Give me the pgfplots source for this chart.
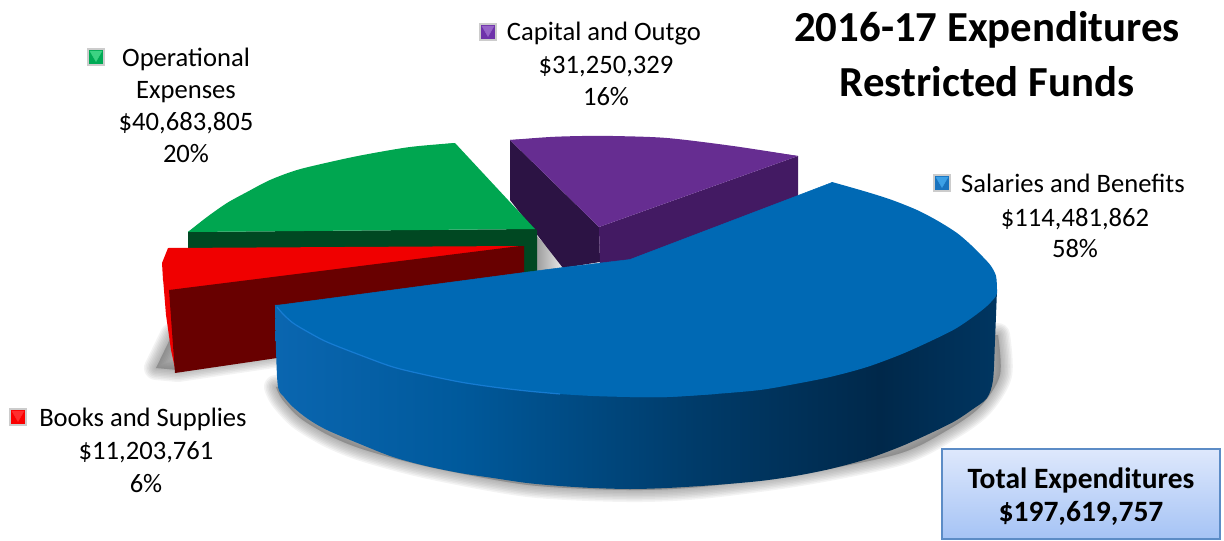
\documentclass[border=0pt]{standalone}
\usepackage{fontspec}
\setmainfont{Carlito}
\usepackage{pgfplots}
\pgfplotsset{compat=1.18}

\definecolor{bluetop}{RGB}{0,105,180}
\definecolor{blueedge}{RGB}{28,130,220}
\definecolor{greentop}{RGB}{0,166,80}
\definecolor{greenside}{RGB}{0,72,34}
\definecolor{purpletop}{RGB}{102,45,145}
\definecolor{purpleright}{RGB}{67,26,99}
\definecolor{purpleleft}{RGB}{44,19,68}
\definecolor{redtop}{RGB}{240,0,0}
\definecolor{redside}{RGB}{104,0,0}
\definecolor{boxtop}{RGB}{222,232,252}
\definecolor{boxbot}{RGB}{165,195,245}
\definecolor{boxline}{RGB}{92,140,198}
\definecolor{keyB}{RGB}{25,115,190}
\definecolor{keyBl}{RGB}{60,160,230}
\definecolor{keyG}{RGB}{0,170,85}
\definecolor{keyGl}{RGB}{60,210,130}
\definecolor{keyP}{RGB}{110,50,170}
\definecolor{keyPl}{RGB}{150,100,200}
\definecolor{keyR}{RGB}{250,0,0}
\definecolor{keyRl}{RGB}{255,45,45}

% side of the blue slice, stops run 25bp to 75bp across the path
\pgfdeclarehorizontalshading{bandshade}{100bp}{
  rgb(0bp)=(0.04,0.40,0.69);
  rgb(25bp)=(0.04,0.40,0.69);
  rgb(37.8bp)=(0,0.35,0.61);
  rgb(54.4bp)=(0,0.23,0.41);
  rgb(66.9bp)=(0,0.157,0.29);
  rgb(75bp)=(0,0.21,0.38);
  rgb(100bp)=(0,0.21,0.38)}

% label text at a baseline, x is the centre
\newcommand{\lbl}[3]{\node[anchor=base,inner sep=0pt,font=\fontsize{26.6}{26.6}\selectfont] at (axis cs:#1,#2) {#3};}
\newcommand{\bld}[4]{\node[anchor=base,inner sep=0pt,font=\fontsize{#4}{#4}\selectfont\bfseries] at (axis cs:#1,#2) {#3};}
% legend key
\newcommand{\lkey}[4]{%
  \addplot[only marks,mark=square*,mark size=8.5pt,color=black!20] coordinates {(#1,#2)};
  \addplot[only marks,mark=square*,mark size=6.5pt,color=#3] coordinates {(#1,#2)};
  \addplot[only marks,mark=triangle*,mark size=7pt,mark options={rotate=180},color=#4] coordinates {(#1,#2-2.5)};
}

\begin{document}
\begin{tikzpicture}
\begin{axis}[
  width=1224pt,height=541pt,scale only axis,
  xmin=0,xmax=1224,ymin=0,ymax=541,y dir=reverse,
  enlargelimits=false,hide axis,clip=false,
]
\path (axis cs:0,0) rectangle (axis cs:1224,541);

% soft shadows, stacked strokes
\addplot[draw=none,left color=black!38,right color=black!4] coordinates {(537,236)(566,268)(537,273)} --cycle;
\pgfplotsinvokeforeach{24,21,18,15,12,9,6,3}{
  \addplot[fill=black!60,draw=black!60,opacity=0.08,line width=#1pt,line join=round]
    coordinates {(172,335)(156,368)(178,370)(280,355)(280,345)} --cycle;
  \addplot[smooth,fill=black!60,draw=black!60,opacity=0.08,line width=#1pt,line join=round]
    coordinates {(276,387)(282,399)(300,418)(330,436)(365,450)(429,467)(528,485)(627,490)(700,487)(800,474)(898,454)(946,431)(980,407)(1000,375)(998,335)} --cycle;
}

% purple slice
\addplot[draw=none,fill=purpleleft] coordinates {(510,140)(599,227)(600,262)(563,268)(510,200)} --cycle;
\addplot[draw=none,fill=purpleright] coordinates {(599,227)(798,156)(798,196)(640,262)(600,264)} --cycle;
\addplot[smooth,draw=none,fill=purpletop] coordinates {(510,140)(550,137)(582,136)(613,136)(667,138)(733,146)(798,156)} --cycle;
\addplot[draw=none,fill=purpletop] coordinates {(510,140)(550,138)(613,137)(667,139)(733,147)(798,156)(599,227)} --cycle;

% green slice
\addplot[draw=none,fill=greenside] coordinates {(188,232)(535,229)(537,230)(537,274)(188,262)} --cycle;
\addplot[smooth,draw=none,fill=greentop] coordinates {(455,143)(410,147)(363,155)(330,162)(297,170)(270,180)(247,192)(227,203)(207,217)(188,232)} --cycle;
\addplot[draw=none,fill=greentop] coordinates {(455,143)(410,148)(363,156)(297,171)(247,193)(207,218)(188,232)(535,229)} --cycle;

% red slice
\addplot[draw=none,fill=redtop] coordinates {(168,248)(520,246)(524,246)(169,292)(163,280)(162,263)} --cycle;
\addplot[draw=none,fill=redtop] coordinates {(163,278)(170,290)(176,373)(171,350)(166,315)} --cycle;
\addplot[draw=none,fill=redside] coordinates {(169,290)(520,246)(524,246)(524,272)(524,330)(277,358)(175,373)} --cycle;

% blue slice
\addplot[smooth,draw=none,shade,shading=bandshade] coordinates {(275,305)(276,350)(278,387)(284,397)(293,407)(308,419)(327,430)(360,444)(393,457)(426,466)(460,473)(493,478)(527,483)(560,486)(593,488)(630,489)(667,488)(715,485)(760,481)(795,476)(830,469)(867,459)(902,446)(933,432)(955,421)(973,409)(987,398)(993,380)(995,340)(997,290)} --cycle;
\addplot[draw=bluetop,line width=0.5pt,fill=bluetop] coordinates {(276,305.5)(524,272.5)(563,267.5)(630,259.5)(798,195.5)(832,182.5)(715,390)(630,393)} --cycle;
\addplot[smooth,draw=none,fill=bluetop] coordinates {(832,182)(867,192)(892,200)(917,210)(938,221)(957,233)(971,245)(983,257)(991,266)(996,276)(997,290)(996,296)(987,306)(973,317)(955,329)(933,340)(902,354)(867,367)(830,377)(795,384)(760,390)(715,394)(667,397)(630,397)} --cycle;
\addplot[smooth,draw=none,fill=bluetop] coordinates {(715,394)(667,397)(630,397)(593,396)(560,394)(527,391)(493,387)(460,382)(426,375)(393,367)(360,355)(327,342)(308,332)(293,323)(283,314)(275,305)} --cycle;
\addplot[smooth,blueedge,opacity=0.8,line width=1.2pt] coordinates {(277,307)(283,314)(293,323)(308,332)(327,342)(360,355)(393,367)(426,375)(460,382)(493,387)(527,391)(560,394)};

% total box
\addplot[draw=boxline,line width=1.6pt,top color=boxtop,bottom color=boxbot] coordinates {(942,449)(1220,449)(1220,539)(942,539)} --cycle;

% legend keys
\lkey{96}{57}{keyG}{keyGl}
\lkey{488}{32}{keyP}{keyPl}
\lkey{942}{183}{keyB}{keyBl}
\lkey{18}{417}{keyR}{keyRl}

% labels
\lbl{186}{66}{Operational}
\lbl{186}{98}{Expenses}
\lbl{186}{130}{\$40,683,805}
\lbl{186}{162}{20\%}
\lbl{604}{40}{Capital and Outgo}
\lbl{606}{73}{\$31,250,329}
\lbl{606}{105}{16\%}
\lbl{1073}{192}{Salaries and Benefits}
\lbl{1075}{226}{\$114,481,862}
\lbl{1075}{257}{58\%}
\lbl{143}{426}{Books and Supplies}
\lbl{146}{459}{\$11,203,761}
\lbl{146}{492}{6\%}

\bld{987}{41}{2016-17 Expenditures}{42.8}
\bld{987}{96}{Restricted Funds}{42.8}
\bld{1081}{488}{Total Expenditures}{29.5}
\bld{1081}{521}{\$197,619,757}{29.5}
\end{axis}
\end{tikzpicture}
\end{document}
